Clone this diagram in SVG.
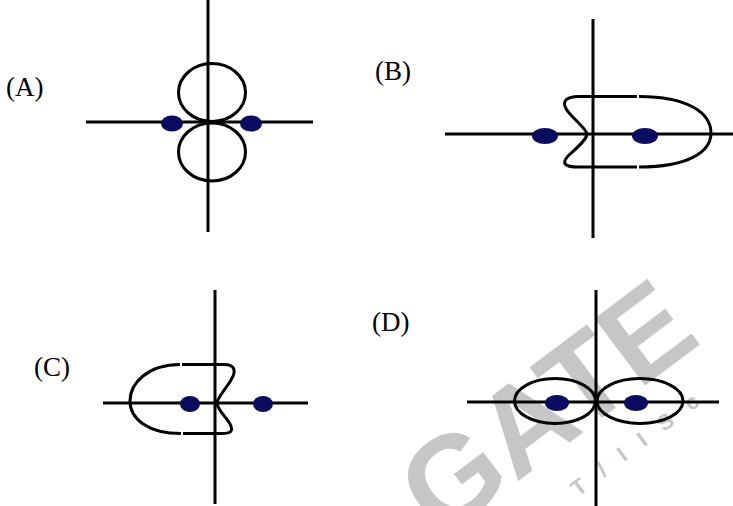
<svg xmlns="http://www.w3.org/2000/svg" width="733" height="506" viewBox="0 0 733 506">
  <style>
    .ax { stroke: #000; stroke-width: 3; fill: none; }
    .cv { stroke: #000; stroke-width: 3; fill: none; }
    .pt { fill: #0b0b60; }
    .lb { font-family: "Liberation Serif", "Times New Roman", serif; font-size: 27px; fill: #000; }
    .wm { font-family: "Liberation Sans", Arial, sans-serif; font-weight: bold; fill: #c6c6c6; }
  </style>
  <rect x="0" y="0" width="733" height="506" fill="#fff"/>

  <g id="watermark">
    <text class="wm" x="440" y="540" font-size="122" transform="rotate(-37 440 540)">GATE</text>
    <text class="wm" x="578" y="497" font-size="22" letter-spacing="19" transform="rotate(-37 578 497)">T/IISc</text>
  </g>

  <g id="panelA">
    <line class="ax" x1="208" y1="0" x2="208" y2="232"/>
    <line class="ax" x1="86" y1="122" x2="313" y2="122"/>
    <ellipse class="cv" cx="212" cy="92.5" rx="33.5" ry="29"/>
    <ellipse class="cv" cx="212" cy="152" rx="33.5" ry="29"/>
    <ellipse class="pt" cx="172" cy="123.5" rx="11" ry="8"/>
    <ellipse class="pt" cx="251" cy="123.5" rx="11" ry="8"/>
    <text class="lb" x="6" y="96">(A)</text>
  </g>

  <g id="panelB">
    <line class="ax" x1="593" y1="19" x2="593" y2="238"/>
    <line class="ax" x1="445" y1="134" x2="733" y2="134"/>
    <path class="cv" d="M 637 96.5 L 580 96.5 C 562 96.5 561 104 570 114 C 579 124 587 130 587 134 C 587 139 578 147 569 155 C 561 163 564 167 578 167 L 637 167"/>
    <path class="cv" d="M 639 96.5 C 688 96.5 711 113 711 133 C 711 152 688 167 639 167"/>
    <ellipse class="pt" cx="545" cy="136" rx="13" ry="8"/>
    <ellipse class="pt" cx="645" cy="136" rx="13" ry="8"/>
    <text class="lb" x="375" y="80">(B)</text>
  </g>

  <g id="panelC">
    <line class="ax" x1="215" y1="290" x2="215" y2="504"/>
    <line class="ax" x1="103" y1="403" x2="308" y2="403"/>
    <path class="cv" d="M 182 364.5 L 224 364.5 C 236 364.5 236 372 231 380 C 225 390 217 398 217 403 C 217 409 226 417 230 424 C 234 432 230 433.5 222 433.5 L 183 433.5"/>
    <path class="cv" d="M 180 364.5 C 148 364.5 130 383 130 401 C 130 419 148 433.5 181 433.5"/>
    <ellipse class="pt" cx="190" cy="404" rx="10" ry="8"/>
    <ellipse class="pt" cx="263" cy="404" rx="10" ry="8"/>
    <text class="lb" x="34" y="376">(C)</text>
  </g>

  <g id="panelD">
    <line class="ax" x1="596" y1="290" x2="596" y2="506"/>
    <line class="ax" x1="467" y1="402" x2="719" y2="402"/>
    <ellipse class="cv" cx="555" cy="401" rx="40.5" ry="22.5"/>
    <ellipse class="cv" cx="640" cy="401" rx="43" ry="22.5"/>
    <ellipse class="pt" cx="557" cy="403" rx="12" ry="8"/>
    <ellipse class="pt" cx="636" cy="403" rx="12" ry="8"/>
    <text class="lb" x="372" y="331">(D)</text>
  </g>
</svg>
